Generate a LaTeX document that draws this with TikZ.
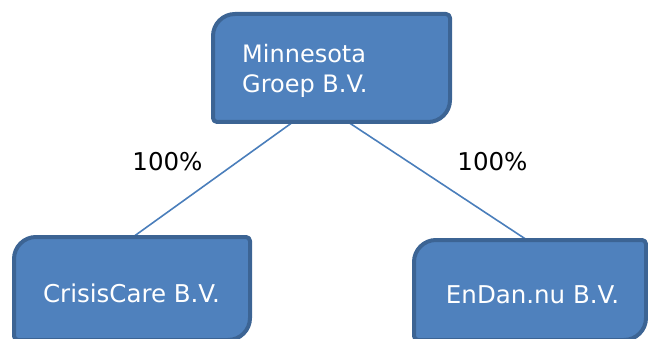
\documentclass[tikz,border=0pt]{standalone}
\usepackage{fontspec}
\setmainfont{DejaVu Sans}
\definecolor{boxfill}{HTML}{4F81BD}
\definecolor{boxedge}{HTML}{3C6494}
\definecolor{linkblue}{HTML}{4A7EBB}
\tikzset{
  boxarea/.style={rectangle, inner sep=0pt, outer sep=0pt},
  boxline/.style={draw=boxedge, fill=boxfill, line width=4pt, line join=round},
  boxtext/.style={text=white, font=\fontsize{24.5}{30}\selectfont, inner sep=0pt},
  link/.style={draw=linkblue, line width=1.6pt},
  pct/.style={font=\fontsize{24.5}{30}\selectfont, text=black, inner sep=0pt}
}
\newcommand\officebox[1]{%
  \path[boxline] ([xshift=22pt]#1.north west) -- ([xshift=-4pt]#1.north east)
    arc[start angle=90, end angle=0, radius=4pt]
    -- ([yshift=22pt]#1.south east)
    arc[start angle=0, end angle=-90, radius=22pt]
    -- ([xshift=4pt]#1.south west)
    arc[start angle=270, end angle=180, radius=4pt]
    -- ([yshift=-22pt]#1.north west)
    arc[start angle=180, end angle=90, radius=22pt]
    -- cycle;}
\begin{document}
\begin{tikzpicture}[x=1pt,y=1pt]
  \useasboundingbox (0,0) rectangle (648,338);
  \clip (0,0) rectangle (648,338);
  \node[boxarea, minimum width=237pt, minimum height=108pt] (top) at (331.5,270) {};
  \node[boxarea, minimum width=236pt, minimum height=103pt] (left) at (132,49.5) {};
  \node[boxarea, minimum width=232pt, minimum height=100pt] (right) at (530,48) {};
  \draw[link] ([xshift=-38.5pt]top.south) -- ([xshift=1pt]left.north);
  \draw[link] ([xshift=16.5pt]top.south) -- ([xshift=-3pt]right.north);
  \officebox{top}
  \officebox{left}
  \officebox{right}
  \node[pct] (pctL) at (167.5,176) {100\%};
  \node[pct] (pctR) at (492.5,176) {100\%};
  \node[boxtext, font=\fontsize{24}{30}\selectfont, anchor=base west, align=left] (topText) at (242,245) {Minnesota\\Groep B.V.};
  \node[boxtext, anchor=base] (leftText) at (131.5,36) {CrisisCare B.V.};
  \node[boxtext, anchor=base] (rightText) at (532.5,35) {EnDan.nu B.V.};
\end{tikzpicture}
\end{document}
